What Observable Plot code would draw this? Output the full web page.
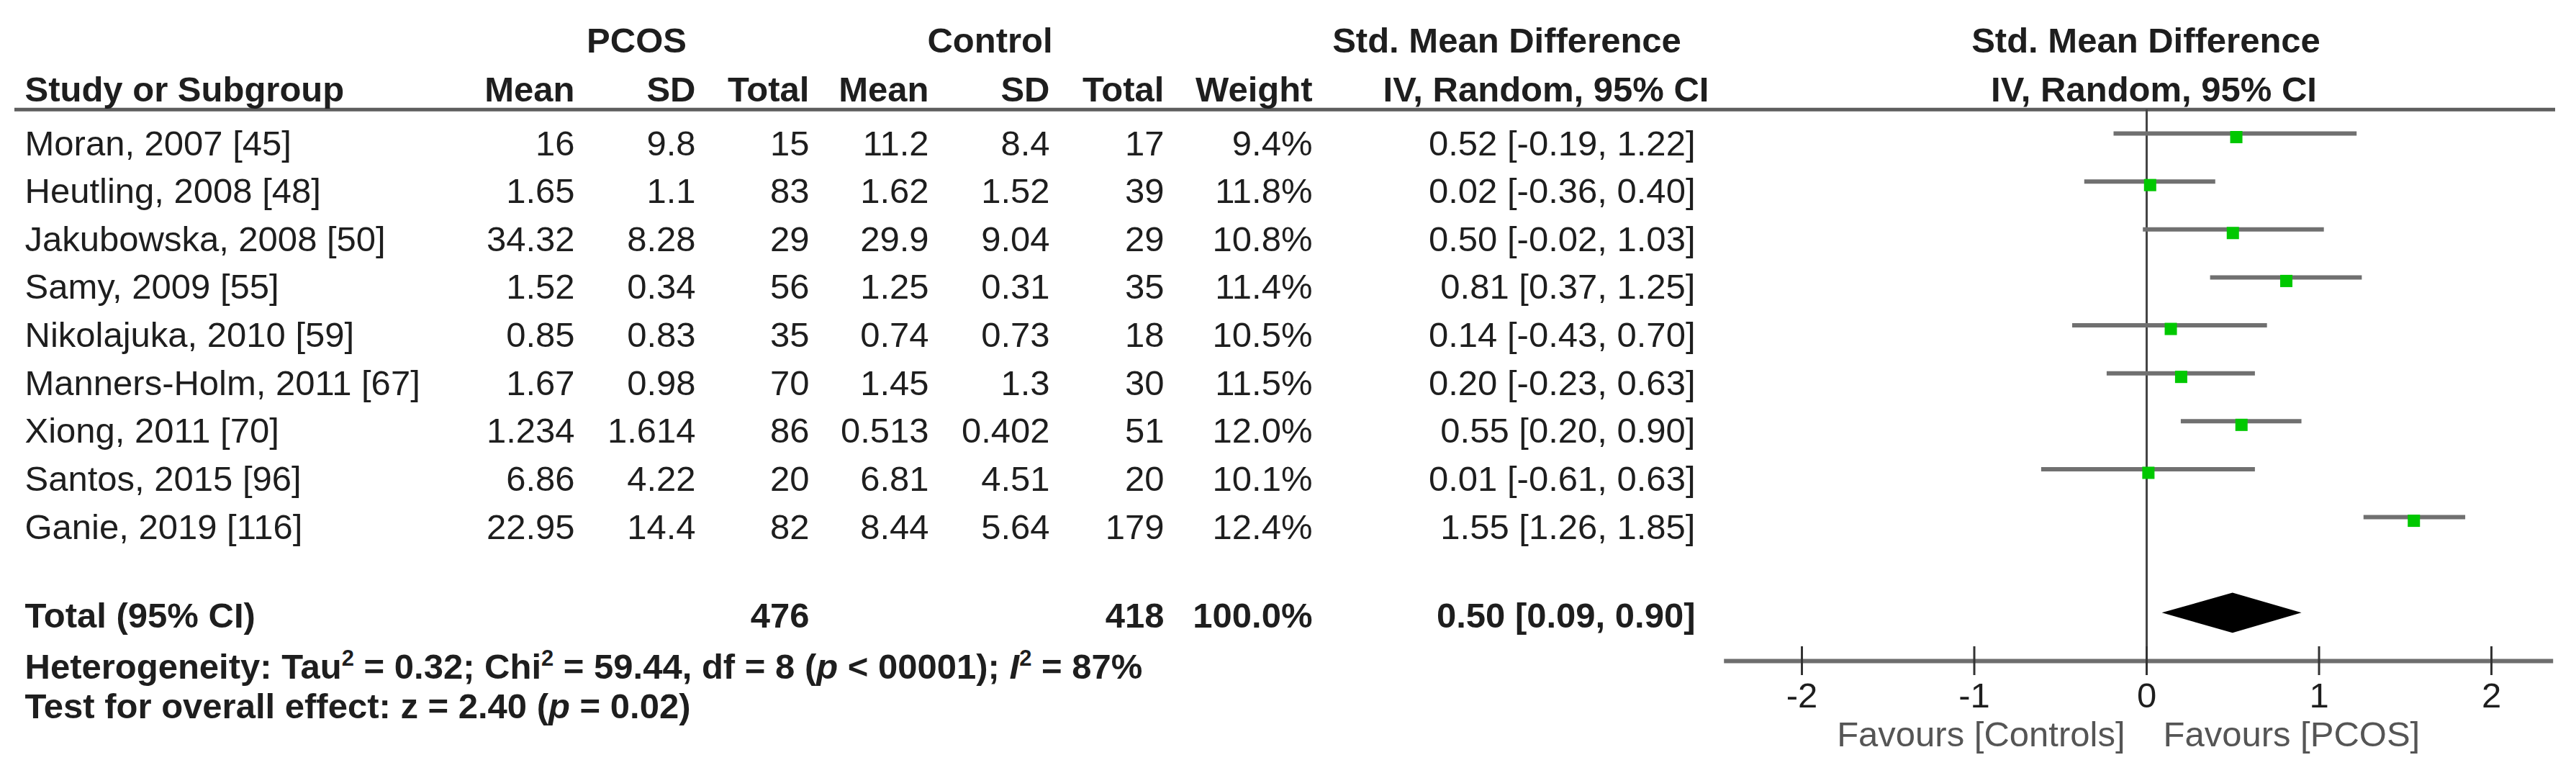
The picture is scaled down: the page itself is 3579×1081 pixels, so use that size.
<!DOCTYPE html>
<html>
<head>
<meta charset="utf-8">
<script src="https://cdn.jsdelivr.net/npm/d3@7"></script>
<script src="https://cdn.jsdelivr.net/npm/@observablehq/plot@0.6"></script>
<style>
  html, body { margin: 0; padding: 0; background: #ffffff; }
  #chart svg { display: block; }
</style>
</head>
<body>
<div id="chart"></div>
<script>
// ---------------- DATA ----------------
const studies = [
  "Moran, 2007 [45]", "Heutling, 2008 [48]", "Jakubowska, 2008 [50]", "Samy, 2009 [55]",
  "Nikolajuka, 2010 [59]", "Manners-Holm, 2011 [67]", "Xiong, 2011 [70]", "Santos, 2015 [96]",
  "Ganie, 2019 [116]"
];
const pcosMean  = [16, 1.65, 34.32, 1.52, 0.85, 1.67, 1.234, 6.86, 22.95];
const pcosSD    = [9.8, 1.1, 8.28, 0.34, 0.83, 0.98, 1.614, 4.22, 14.4];
const pcosN     = [15, 83, 29, 56, 35, 70, 86, 20, 82];
const ctrlMean  = [11.2, 1.62, 29.9, 1.25, 0.74, 1.45, 0.513, 6.81, 8.44];
const ctrlSD    = [8.4, 1.52, 9.04, 0.31, 0.73, 1.3, 0.402, 4.51, 5.64];
const ctrlN     = [17, 39, 29, 35, 18, 30, 51, 20, 179];
const weights   = [9.4, 11.8, 10.8, 11.4, 10.5, 11.5, 12.0, 10.1, 12.4];
const smd       = [0.52, 0.02, 0.50, 0.81, 0.14, 0.20, 0.55, 0.01, 1.55];
const ciLow     = [-0.19, -0.36, -0.02, 0.37, -0.43, -0.23, 0.20, -0.61, 1.26];
const ciHigh    = [1.22, 0.40, 1.03, 1.25, 0.70, 0.63, 0.90, 0.63, 1.85];

const totalLabel = "Total (95% CI)";
const totalPcosN = 476;
const totalCtrlN = 418;
const totalWeight = 100.0;
const totalSmd = 0.50, totalLow = 0.09, totalHigh = 0.90;

const hetTau2 = 0.32, hetChi2 = 59.44, hetDf = 8, hetP = "< 00001", hetI2 = 87;
const effZ = 2.40, effP = 0.02;

const axisTicks = [-2, -1, 0, 1, 2];
const favoursLeft = "Favours [Controls]";
const favoursRight = "Favours [PCOS]";

const groupHeaders = ["PCOS", "Control", "Std. Mean Difference", "Std. Mean Difference"];
const colHeaders = ["Study or Subgroup", "Mean", "SD", "Total", "Mean", "SD", "Total", "Weight",
                    "IV, Random, 95% CI", "IV, Random, 95% CI"];

// ---------------- LAYOUT ----------------
const W = 3579, H = 1081, ML = 20, MR = 29;
const FS = 49;
const FONT = "'Liberation Sans', Arial, Helvetica, sans-serif";
const INK = "#1e1e1e";
const colRight = {pm: 798, psd: 966, pn: 1124, cm: 1290, csd: 1458, cn: 1617, w: 1823, ci: 2355};
const studyLeft = 34;
const axisExtent = [-2.45, 2.36];

const fmtCI = (m, l, h) => `${m.toFixed(2)} [${l.toFixed(2)}, ${h.toFixed(2)}]`;
const rows = studies.map((s, i) => ({
  row: i, study: s,
  pm: String(pcosMean[i]), psd: String(pcosSD[i]), pn: String(pcosN[i]),
  cm: String(ctrlMean[i]), csd: String(ctrlSD[i]), cn: String(ctrlN[i]),
  w: weights[i].toFixed(1) + "%",
  ci: fmtCI(smd[i], ciLow[i], ciHigh[i]),
  smd: smd[i], lo: ciLow[i], hi: ciHigh[i]
}));
const totalRowIdx = studies.length + 1;
const totalRow = [{
  row: totalRowIdx, study: totalLabel, pn: String(totalPcosN), cn: String(totalCtrlN),
  w: totalWeight.toFixed(1) + "%", ci: fmtCI(totalSmd, totalLow, totalHigh)
}];
const axisRow = totalRowIdx + 1;
const diamondHalf = 0.42;
const diamond = [
  {x: totalLow, y1: totalRowIdx, y2: totalRowIdx},
  {x: totalSmd, y1: totalRowIdx - diamondHalf, y2: totalRowIdx + diamondHalf},
  {x: totalHigh, y1: totalRowIdx, y2: totalRowIdx}
];

// rich text segments (post-processed for sup/italic)
const hetSegs = [
  ["Heterogeneity: Tau", ""], ["2", "sup"], [` = ${hetTau2.toFixed(2)}; Chi`, ""], ["2", "sup"],
  [` = ${hetChi2.toFixed(2)}, df = ${hetDf} (`, ""], ["p", "it"], [` ${hetP}); `, ""],
  ["I", "it"], ["2", "sup"], [` = ${hetI2}%`, ""]
];
const effSegs = [
  [`Test for overall effect: z = ${effZ.toFixed(2)} (`, ""], ["p", "it"], [` = ${effP.toFixed(2)})`, ""]
];
const joinSegs = segs => segs.map(s => s[0]).join("");

function colText(data, key, px, opts = {}) {
  return Plot.text(data, {
    y: "row", text: key, frameAnchor: "left", dx: px - ML,
    textAnchor: "end", lineAnchor: "bottom", dy: 30, fontSize: FS, fill: INK, ...opts
  });
}
function fixedText(str, px, baseline, anchor, opts = {}) {
  return Plot.text([str], {
    text: d => d, frameAnchor: "top-left", dx: px - ML, dy: baseline,
    textAnchor: anchor, lineAnchor: "bottom", fontSize: FS, fill: INK, ...opts
  });
}

const svg = Plot.plot({
  width: W, height: H,
  marginLeft: ML, marginRight: MR, marginTop: 0, marginBottom: 0,
  x: {type: "linear", domain: [-2, 2], range: [2503, 3461], axis: null},
  y: {type: "linear", domain: [0, 11], range: [185, 918], axis: null},
  style: {fontFamily: FONT, background: "#ffffff", color: INK},
  marks: [
    // header line
    Plot.ruleY([-0.5], {stroke: "#5e5e5e", strokeWidth: 5}),
    // zero line
    Plot.ruleX([0], {y1: -0.5, y2: axisRow, stroke: "#444", strokeWidth: 3}),
    // axis
    Plot.ruleY([axisRow], {x1: axisExtent[0], x2: axisExtent[1], stroke: "#6e6e6e", strokeWidth: 6}),
    Plot.ruleX(axisTicks, {y1: axisRow - 0.3, y2: axisRow + 0.3, stroke: "#333", strokeWidth: 3}),
    Plot.text(axisTicks, {x: d => d, y: axisRow, dy: 64, text: d => String(d), lineAnchor: "bottom",
      textAnchor: "middle", fontSize: FS, fill: INK}),
    Plot.text([favoursLeft], {x: 0, y: axisRow, dx: -30, dy: 118, text: d => d, textAnchor: "end",
      lineAnchor: "bottom", fontSize: FS, fill: "#555"}),
    Plot.text([favoursRight], {x: 0, y: axisRow, dx: 23, dy: 118, text: d => d, textAnchor: "start",
      lineAnchor: "bottom", fontSize: FS, fill: "#555"}),
    // CI lines and markers
    Plot.ruleY(rows, {y: "row", x1: "lo", x2: "hi", stroke: "#707070", strokeWidth: 6}),
    Plot.dot(rows, {x: "smd", y: "row", dy: 5, symbol: "square", r: 9.6, fill: "#00c800", stroke: "none"}),
    // diamond
    Plot.areaY(diamond, {x: "x", y1: "y1", y2: "y2", fill: "#000"}),
    // headers
    fixedText(groupHeaders[0], 884, 72, "middle", {fontWeight: "bold"}),
    fixedText(groupHeaders[1], 1375, 72, "middle", {fontWeight: "bold"}),
    fixedText(groupHeaders[2], 2093, 72, "middle", {fontWeight: "bold"}),
    fixedText(groupHeaders[3], 2981, 72, "middle", {fontWeight: "bold"}),
    fixedText(colHeaders[0], studyLeft, 140, "start", {fontWeight: "bold"}),
    fixedText(colHeaders[1], colRight.pm, 140, "end", {fontWeight: "bold"}),
    fixedText(colHeaders[2], colRight.psd, 140, "end", {fontWeight: "bold"}),
    fixedText(colHeaders[3], colRight.pn, 140, "end", {fontWeight: "bold"}),
    fixedText(colHeaders[4], colRight.cm, 140, "end", {fontWeight: "bold"}),
    fixedText(colHeaders[5], colRight.csd, 140, "end", {fontWeight: "bold"}),
    fixedText(colHeaders[6], colRight.cn, 140, "end", {fontWeight: "bold"}),
    fixedText(colHeaders[7], colRight.w, 140, "end", {fontWeight: "bold"}),
    fixedText(colHeaders[8], 2374, 140, "end", {fontWeight: "bold"}),
    fixedText(colHeaders[9], 2992, 140, "middle", {fontWeight: "bold"}),
    // study rows
    Plot.text(rows, {y: "row", text: "study", frameAnchor: "left", dx: studyLeft - ML,
      textAnchor: "start", lineAnchor: "bottom", dy: 30, fontSize: FS, fill: INK}),
    colText(rows, "pm", colRight.pm),
    colText(rows, "psd", colRight.psd),
    colText(rows, "pn", colRight.pn),
    colText(rows, "cm", colRight.cm),
    colText(rows, "csd", colRight.csd),
    colText(rows, "cn", colRight.cn),
    colText(rows, "w", colRight.w),
    colText(rows, "ci", colRight.ci),
    // total row
    Plot.text(totalRow, {y: "row", text: "study", frameAnchor: "left", dx: studyLeft - ML,
      textAnchor: "start", lineAnchor: "bottom", dy: 20, fontSize: FS, fill: INK, fontWeight: "bold"}),
    colText(totalRow, "pn", colRight.pn, {dy: 20, fontWeight: "bold"}),
    colText(totalRow, "cn", colRight.cn, {dy: 20, fontWeight: "bold"}),
    colText(totalRow, "w", colRight.w, {dy: 20, fontWeight: "bold"}),
    colText(totalRow, "ci", colRight.ci, {dy: 20, fontWeight: "bold"}),
    // stats lines
    fixedText(joinSegs(hetSegs), studyLeft, 942, "start", {fontWeight: "bold"}),
    fixedText(joinSegs(effSegs), studyLeft, 997, "start", {fontWeight: "bold"})
  ]
});

// rich text: superscripts and italics
function richify(segs) {
  const plain = joinSegs(segs);
  d3.select(svg).selectAll("text").filter(function () { return this.textContent === plain; })
    .each(function () {
      const el = d3.select(this);
      el.text("");
      let raised = false;
      for (const [t, kind] of segs) {
        const ts = el.append("tspan").text(t);
        if (kind === "sup") {
          ts.attr("font-size", 31).attr("dy", raised ? 0 : -18);
          raised = true;
        } else {
          if (raised) { ts.attr("dy", 18); raised = false; }
          if (kind === "it") ts.attr("font-style", "italic");
        }
      }
    });
}
richify(hetSegs);
richify(effSegs);

document.getElementById("chart").appendChild(svg);
</script>
</body>
</html>
